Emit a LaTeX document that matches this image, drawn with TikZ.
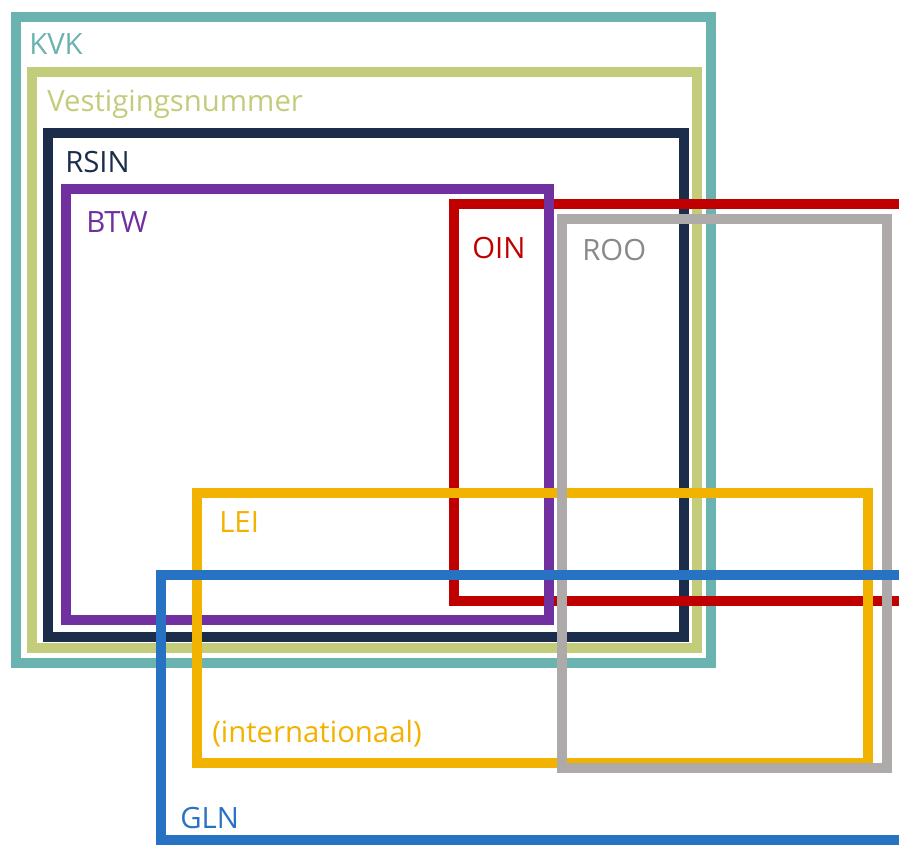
\documentclass[tikz,border=0pt]{standalone}
\usepackage{fontspec}
\setmainfont{Open Sans}
\definecolor{cteal}{HTML}{6BB3B0}
\definecolor{cgreen}{HTML}{C3CC7A}
\definecolor{cnavy}{HTML}{1B2D4A}
\definecolor{cpurple}{HTML}{7030A0}
\definecolor{cred}{HTML}{C00000}
\definecolor{cgray}{HTML}{AEAAAA}
\definecolor{cyellow}{HTML}{F2B200}
\definecolor{cblue}{HTML}{2872C4}
\tikzset{
  frame/.style={line width=7.5pt, line join=miter},
  lbl/.style={anchor=base west, inner sep=0pt, font=\fontsize{22}{26}\selectfont}
}
\begin{document}
\begin{tikzpicture}[x=0.75pt,y=-0.75pt]
\useasboundingbox (0,0) rectangle (899,845);
\begin{scope}
\clip (0,0) rectangle (899,845);
\draw[frame, cteal] (15.5,17) rectangle (711,663);
\draw[frame, cgreen] (32,72) rectangle (697,648);
\draw[frame, cnavy] (48,133) rectangle (684,637);
\draw[frame, cred] (454,204) rectangle (960,601);
\draw[frame, cpurple] (66,189) rectangle (549,620);
\draw[frame, cyellow] (197,493) rectangle (868,763);
\draw[frame, cgray] (562,219) rectangle (887,768);
\draw[frame, cblue] (161,575) rectangle (960,840);
\end{scope}
\node[lbl, text=cteal] (kvk) at (29,55) {KVK};
\node[lbl, text=cgreen] (ves) at (47,112) {Vestigingsnummer};
\node[lbl, text=cnavy] (rsin) at (65,172) {RSIN};
\node[lbl, text=cpurple] (btw) at (86,232) {BTW};
\node[lbl, text=cred] (oin) at (472,258) {OIN};
\node[lbl, text=cgray!80!black] (roo) at (582,260) {ROO};
\node[lbl, text=cyellow] (lei) at (219,532) {LEI};
\node[lbl, text=cyellow] (int) at (212,742) {(internationaal)};
\node[lbl, text=cblue] (gln) at (180,828) {GLN};
\end{tikzpicture}
\end{document}
